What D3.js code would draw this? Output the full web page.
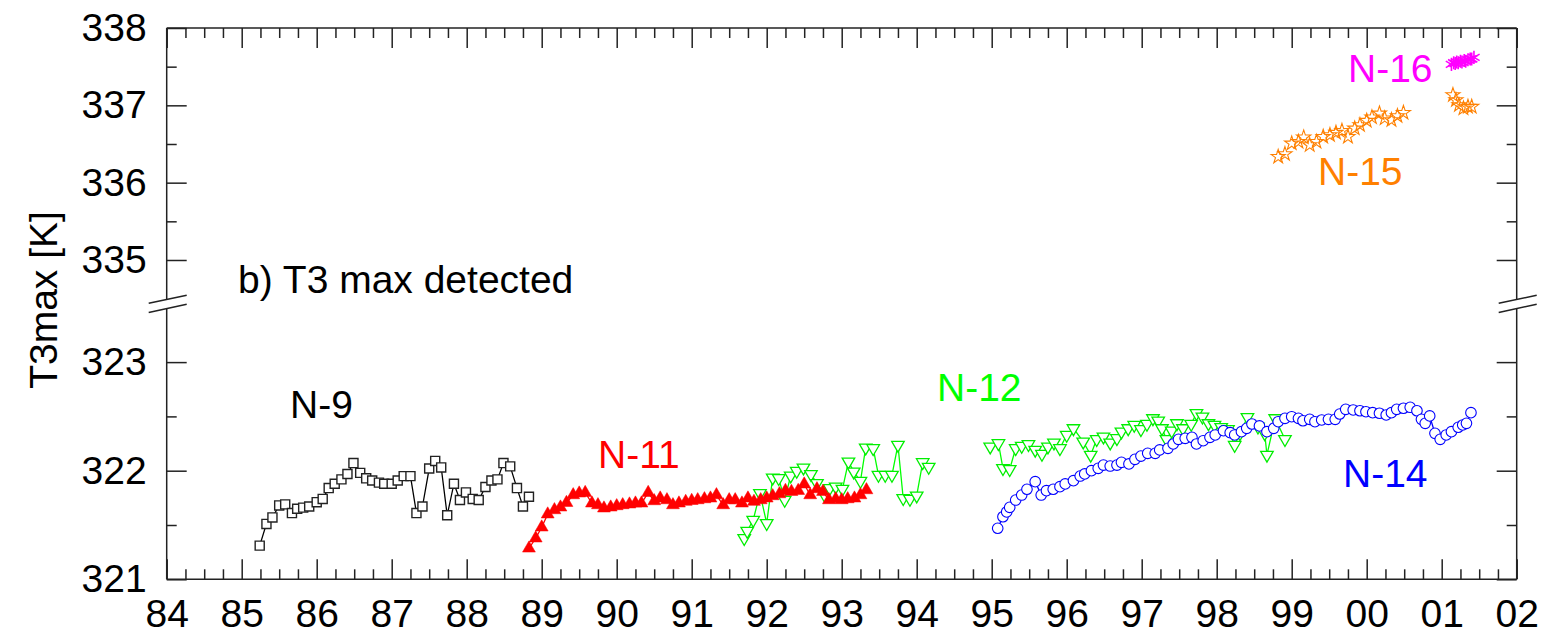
<!DOCTYPE html>
<html><head><meta charset="utf-8">
<script src="https://cdn.jsdelivr.net/npm/d3@7"></script>
<style>
html,body{margin:0;padding:0;background:#fff;}
text{font-family:"Liberation Sans",Arial,sans-serif;}
</style></head>
<body><svg id="c" width="1556" height="635"></svg>
<script>
// ---------- data ----------
const xTickYears = [84,85,86,87,88,89,90,91,92,93,94,95,96,97,98,99,100,101,102];
const yLowTicks = [321,322,323];
const yHighTicks = [335,336,337,338];

const n9Years = [85.24,85.33,85.41,85.50,85.58,85.67,85.74,85.82,85.90,86.00,86.08,86.16,86.24,86.33,86.41,86.49,86.58,86.66,86.74,86.83,86.90,87.00,87.08,87.16,87.25,87.33,87.41,87.50,87.58,87.66,87.74,87.83,87.91,87.99,88.08,88.16,88.25,88.33,88.41,88.49,88.58,88.67,88.75,88.83];
const n9Values = [321.31,321.51,321.57,321.68,321.69,321.61,321.65,321.66,321.67,321.71,321.74,321.84,321.88,321.92,321.97,322.07,321.98,321.93,321.91,321.89,321.88,321.88,321.91,321.95,321.95,321.61,321.67,322.02,322.09,322.03,321.59,321.88,321.73,321.80,321.74,321.73,321.85,321.91,321.92,322.07,322.04,321.84,321.67,321.76];

const n11Years = [88.83,88.92,89.00,89.08,89.17,89.25,89.33,89.42,89.50,89.58,89.67,89.75,89.83,89.92,90.00,90.08,90.17,90.25,90.33,90.42,90.50,90.58,90.67,90.75,90.83,90.92,91.00,91.08,91.17,91.25,91.33,91.42,91.50,91.58,91.67,91.75,91.83,91.92,92.00,92.08,92.17,92.25,92.33,92.42,92.50,92.58,92.67,92.75,92.83,92.92,93.00,93.08,93.17,93.25,93.33];
const n11Values = [321.285,321.378,321.479,321.599,321.638,321.663,321.705,321.776,321.792,321.797,321.700,321.684,321.654,321.663,321.675,321.684,321.691,321.700,321.700,321.797,321.721,321.746,321.730,321.684,321.700,321.715,321.724,321.730,321.739,321.746,321.776,321.684,321.730,321.730,321.700,321.746,321.715,321.730,321.746,321.767,321.785,321.816,321.807,321.816,321.875,321.776,321.831,321.807,321.730,321.739,321.730,321.739,321.746,321.776,321.822];

const n12Years = [91.70,91.74,91.82,91.91,92.00,92.08,92.16,92.24,92.32,92.40,92.49,92.59,92.67,92.77,92.84,92.92,93.01,93.09,93.16,93.25,93.32,93.42,93.49,93.58,93.67,93.75,93.82,93.91,94.00,94.08,94.16,
  94.98,95.09,95.15,95.24,95.32,95.40,95.49,95.58,95.67,95.75,95.83,95.91,96.00,96.09,96.22,96.32,96.40,96.49,96.58,96.67,96.73,96.82,96.90,96.99,97.07,97.15,97.22,97.27,97.33,97.40,97.47,97.55,97.66,97.73,97.81,97.89,97.97,98.06,98.15,98.24,98.31,98.41,98.55,98.64,98.67,98.78,98.91];
const n12Values = [321.378,321.445,321.546,321.792,321.516,321.936,321.930,321.730,321.954,321.997,322.028,321.967,321.884,321.776,321.838,321.853,321.831,322.083,321.991,321.905,322.212,322.206,321.960,321.960,321.960,322.237,321.746,321.739,321.770,322.077,322.034,
  322.221,322.252,322.022,322.013,322.206,322.227,322.243,322.191,322.154,322.221,322.258,322.206,322.329,322.390,322.267,322.145,322.289,322.313,322.258,322.298,322.359,322.390,322.421,322.381,322.430,322.482,322.460,322.390,322.289,322.368,322.436,322.390,322.430,322.529,322.497,322.436,322.421,322.400,322.381,322.236,322.344,322.492,322.405,322.344,322.145,322.482,322.289];

const n14Years = [95.08,95.15,95.20,95.24,95.32,95.40,95.47,95.58,95.66,95.73,95.82,95.91,95.98,96.09,96.18,96.24,96.33,96.42,96.49,96.58,96.67,96.73,96.83,96.91,96.99,97.08,97.18,97.24,97.35,97.42,97.49,97.58,97.67,97.73,97.82,97.91,97.98,98.09,98.18,98.24,98.33,98.40,98.47,98.57,98.67,98.76,98.82,98.91,99.00,99.09,99.15,99.24,99.31,99.40,99.49,99.58,99.64,99.72,99.82,99.91,99.99,100.08,100.17,100.26,100.33,100.40,100.49,100.58,100.67,100.73,100.78,100.84,100.91,100.98,101.06,101.13,101.22,101.28,101.33,101.39];
const n14Values = [321.470,321.576,321.620,321.663,321.730,321.776,321.829,321.899,321.776,321.816,321.829,321.853,321.878,321.908,321.951,321.970,322.000,322.022,322.052,322.043,322.052,322.077,322.062,322.105,322.135,322.160,322.160,322.191,322.206,322.246,322.289,322.298,322.307,322.246,322.276,322.307,322.329,322.368,322.350,322.329,322.359,322.390,322.430,322.412,322.359,322.390,322.451,322.482,322.497,322.482,322.460,322.473,322.451,322.467,322.473,322.473,322.522,322.565,322.559,322.552,322.543,322.534,322.529,322.513,322.534,322.565,322.575,322.584,322.552,322.473,322.436,322.504,322.344,322.289,322.329,322.359,322.400,322.421,322.436,322.534];

const n15Years = [98.82,98.91,99.00,99.09,99.16,99.24,99.33,99.42,99.51,99.59,99.67,99.75,99.84,99.91,100.00,100.07,100.17,100.24,100.33,100.41,100.49,101.15,101.19,101.23,101.29,101.35,101.40];
const n15Values = [336.335,336.370,336.508,336.529,336.586,336.486,336.529,336.594,336.616,336.646,336.671,336.594,336.702,336.745,336.801,336.845,336.896,336.832,336.810,336.862,336.904,337.133,337.069,337.004,336.961,336.982,336.982];

const n16Years = [101.13,101.16,101.18,101.20,101.22,101.25,101.27,101.30,101.32,101.35,101.38,101.40,101.43];
const n16Values = [337.53,337.55,337.54,337.56,337.55,337.57,337.56,337.58,337.57,337.59,337.60,337.60,337.62];

// ---------- layout ----------
const L = 166.7, R = 1516.7, T = 28, B = 579.3;
const FONT = 39;
const svg = d3.select("#c");
const x = d3.scaleLinear().domain([84,102]).range([L,R]);
const yLow = d3.scaleLinear().domain([321,323]).range([B, B - 2*108.6]);
const yHigh = d3.scaleLinear().domain([335,338]).range([T + 3*77.33, T]);
const yrFmt = d => String(Math.round(d) % 100).padStart(2,"0");

const minorX = d3.range(84, 102.001, 0.25).filter(v => Math.abs(v - Math.round(v)) > 1e-6);
function styleAxis(g){ g.select(".domain").remove(); g.selectAll("line").attr("stroke","#222").attr("stroke-width",1.5); }
svg.append("g").attr("transform",`translate(0,${B})`)
  .call(d3.axisBottom(x).tickValues(xTickYears).tickSize(-20).tickPadding(20).tickFormat(yrFmt))
  .call(styleAxis)
  .call(g => g.selectAll("text").attr("font-size",FONT).attr("fill","#000").attr("font-family","Liberation Sans, Arial, sans-serif"));
svg.append("g").attr("transform",`translate(0,${B})`)
  .call(d3.axisBottom(x).tickValues(minorX).tickSize(-10).tickFormat("")).call(styleAxis);
svg.append("g").attr("transform",`translate(0,${T})`)
  .call(d3.axisTop(x).tickValues(xTickYears).tickSize(-20).tickFormat("")).call(styleAxis);
svg.append("g").attr("transform",`translate(0,${T})`)
  .call(d3.axisTop(x).tickValues(minorX).tickSize(-10).tickFormat("")).call(styleAxis);

function yAxes(scale, majors, minors){
  svg.append("g").attr("transform",`translate(${L},0)`)
    .call(d3.axisLeft(scale).tickValues(majors).tickSize(-20).tickPadding(20).tickFormat(d3.format("d")))
    .call(styleAxis)
    .call(g => g.selectAll("text").attr("font-size",FONT).attr("fill","#000").attr("font-family","Liberation Sans, Arial, sans-serif"));
  svg.append("g").attr("transform",`translate(${L},0)`)
    .call(d3.axisLeft(scale).tickValues(minors).tickSize(-10).tickFormat("")).call(styleAxis);
  svg.append("g").attr("transform",`translate(${R},0)`)
    .call(d3.axisRight(scale).tickValues(majors).tickSize(-20).tickFormat("")).call(styleAxis);
  svg.append("g").attr("transform",`translate(${R},0)`)
    .call(d3.axisRight(scale).tickValues(minors).tickSize(-10).tickFormat("")).call(styleAxis);
}
yAxes(yLow, yLowTicks, [321.5,322.5]);
yAxes(yHigh, yHighTicks, [335.5,336.5,337.5]);

const frame = svg.append("g").attr("stroke","#222").attr("stroke-width",1.5).attr("fill","none");
frame.append("line").attr("x1",L).attr("x2",R).attr("y1",T).attr("y2",T);
frame.append("line").attr("x1",L).attr("x2",R).attr("y1",B).attr("y2",B);
[L,R].forEach(xx => {
  frame.append("line").attr("x1",xx).attr("x2",xx).attr("y1",T).attr("y2",299.5);
  frame.append("line").attr("x1",xx).attr("x2",xx).attr("y1",308.5).attr("y2",B);
  frame.append("line").attr("x1",xx-18).attr("x2",xx+20).attr("y1",303.3).attr("y2",295.2);
  frame.append("line").attr("x1",xx-18).attr("x2",xx+20).attr("y1",312.5).attr("y2",304.2);
});

// ---------- series ----------
function zip(xs, ys){ return xs.map((d,i)=>({x:d, y:ys[i]})); }
function drawSeries(opts){
  const data = zip(opts.years, opts.values);
  const sc = opts.scale;
  const g = svg.append("g");
  if (opts.line){
    const segs = [[]];
    data.forEach((d,i) => { if (i>0 && d.x - data[i-1].x > 0.5) segs.push([]); segs[segs.length-1].push(d); });
    const ln = d3.line().x(d=>x(d.x)).y(d=>sc(d.y));
    segs.forEach(s => g.append("path").attr("d", ln(s)).attr("fill","none").attr("stroke",opts.color).attr("stroke-width",1.3));
  }
  const sym = d3.symbol().type(opts.type).size(opts.size);
  g.selectAll("path.m").data(data).enter().append("path").attr("class","m")
    .attr("d", sym)
    .attr("transform", d => `translate(${x(d.x)},${sc(d.y)})` + (opts.rotate ? ` rotate(${opts.rotate})` : ""))
    .attr("fill", opts.fill).attr("stroke", opts.stroke).attr("stroke-width", opts.sw);
}
drawSeries({years:n9Years, values:n9Values, scale:yLow, color:"#000", line:true, type:d3.symbolSquare, size:82, fill:"#fff", stroke:"#222", sw:1.4});
drawSeries({years:n12Years, values:n12Values, scale:yLow, color:"#00ff00", line:true, type:d3.symbolTriangle, size:68, rotate:180, fill:"#fff", stroke:"#00ee00", sw:1.3});
drawSeries({years:n11Years, values:n11Values, scale:yLow, color:"#ff0000", line:true, type:d3.symbolTriangle, size:72, fill:"#ff0000", stroke:"#ff0000", sw:0.5});
drawSeries({years:n14Years, values:n14Values, scale:yLow, color:"#0000ff", line:true, type:d3.symbolCircle, size:88, fill:"#fff", stroke:"#0000ff", sw:1.1});
drawSeries({years:n15Years, values:n15Values, scale:yHigh, color:"#ff8000", line:false, type:d3.symbolStar, size:62, fill:"none", stroke:"#ff8000", sw:1.1});
drawSeries({years:n16Years, values:n16Values, scale:yHigh, color:"#ff00ff", line:false, type:d3.symbolAsterisk, size:120, fill:"none", stroke:"#ff00ff", sw:1.6});

// ---------- texts ----------
const labels = [
  {t:"N-9", x:290, y:418, c:"#000"},
  {t:"N-11", x:598, y:468, c:"#ff0000"},
  {t:"N-12", x:937, y:401, c:"#00ff00"},
  {t:"N-14", x:1343, y:487, c:"#0000ff"},
  {t:"N-15", x:1318, y:185, c:"#ff8000"},
  {t:"N-16", x:1348, y:82, c:"#ff00ff"},
  {t:"b) T3 max detected", x:238, y:293, c:"#000"}
];
svg.append("g").selectAll("text").data(labels).enter().append("text")
  .attr("x",d=>d.x).attr("y",d=>d.y).attr("fill",d=>d.c).attr("font-size",FONT).text(d=>d.t);
svg.append("text").attr("transform","translate(57,300) rotate(-90)").attr("text-anchor","middle")
  .attr("font-size",FONT).attr("fill","#000").text("T3max [K]");
</script></body></html>
